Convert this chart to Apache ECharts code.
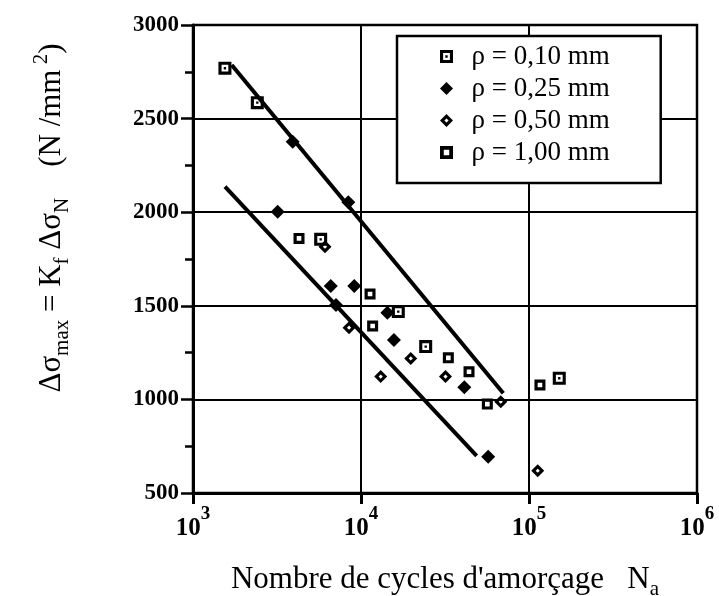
<!DOCTYPE html>
<html>
<head>
<meta charset="utf-8">
<title>Amorçage</title>
<script src="https://cdn.jsdelivr.net/npm/echarts@6/dist/echarts.min.js"></script>
<style>
html, body { margin: 0; padding: 0; background: #fff; }
#main { width: 719px; height: 596px; }
</style>
</head>
<body>
<div id="main"></div>
<script>
// points : [Na, delta sigma max]
var rho010 = [[1549, 2769], [2414, 2585], [5754, 1855], [16670, 1469], [24270, 1282], [151400, 1113]];
var rho025 = [[3920, 2377], [8405, 2053], [3192, 2003], [6607, 1606], [9120, 1606], [7100, 1504],
              [14350, 1463], [15710, 1317], [41200, 1065], [57150, 694]];
var rho050 = [[6104, 1816], [8490, 1383], [19770, 1219], [13100, 1122], [31840, 1122], [67900, 988], [112700, 619]];
var rho100 = [[4276, 1860], [11320, 1563], [11730, 1392], [33100, 1222], [43950, 1148], [56500, 975], [116200, 1077]];

// droites tracees a la main
var upperLine = [[1700, 2786], [70300, 1033]];
var lowerLine = [[1550, 2136], [48800, 698]];

var legendNames = ['ρ = 0,10 mm', 'ρ = 0,25 mm', 'ρ = 0,50 mm', 'ρ = 1,00 mm'];

var symSquareDot = 'path://M0,0H10V10H0Z M2.4,2.4V7.6H7.6V2.4Z M4.1,4.1H5.9V5.9H4.1Z';
var symDiamond = 'path://M5,0L10,5L5,10L0,5Z';
var symDiamondHollow = 'path://M5,0L10,5L5,10L0,5Z M5,3.4L3.4,5L5,6.6L6.6,5Z';
var symSquare = 'path://M0,0H10V10H0Z M2.9,2.9V7.1H7.1V2.9Z';

var serif = 'Liberation Serif';

var myChart = echarts.init(document.getElementById('main'));

function scatter(name, data, symbol, size) {
    return {
        name: name,
        type: 'scatter',
        data: data,
        symbol: symbol,
        symbolSize: size,
        symbolKeepAspect: true,
        itemStyle: { color: '#000', opacity: 1 },
        z: 5
    };
}

function fitLine(data) {
    return {
        type: 'line',
        data: data,
        symbol: 'none',
        silent: true,
        lineStyle: { color: '#000', width: 4 },
        z: 4
    };
}

var option = {
    animation: false,
    backgroundColor: '#fff',
    grid: {
        left: 193, right: 22, top: 25, bottom: 103,
        outerBoundsMode: 'none',
        containLabel: false,
        show: true,
        borderColor: '#000',
        borderWidth: 2.5
    },
    legend: {
        data: legendNames,
        orient: 'vertical',
        left: 397,
        top: 36,
        padding: [6, 51, 16, 43],
        itemWidth: 40,
        itemHeight: 13,
        itemGap: 3,
        backgroundColor: '#fff',
        borderColor: '#000',
        borderWidth: 2.5,
        symbolKeepAspect: true,
        textStyle: { fontFamily: serif, fontSize: 27, color: '#000', lineHeight: 29 }
    },
    xAxis: {
        type: 'log',
        logBase: 10,
        min: 1000,
        max: 1000000,
        name: "{t|Nombre de cycles d'amorçage   N}{s|a}",
        nameLocation: 'middle',
        nameGap: 67,
        nameTextStyle: {
            rich: {
                t: { fontFamily: serif, fontSize: 31, color: '#000', lineHeight: 40, verticalAlign: 'middle' },
                s: { fontFamily: serif, fontSize: 21, color: '#000', lineHeight: 22, verticalAlign: 'bottom' }
            }
        },
        axisLine: { lineStyle: { color: '#000', width: 3 } },
        axisTick: { show: true, inside: false, length: 11, lineStyle: { color: '#000', width: 3 } },
        splitLine: { show: true, lineStyle: { color: '#000', width: 2 } },
        axisLabel: {
            margin: 12,
            formatter: function (v) {
                return '{b|10}{s|' + Math.round(Math.log(v) / Math.LN10) + '}';
            },
            rich: {
                b: { fontFamily: serif, fontSize: 25, fontWeight: 'bold', color: '#000', lineHeight: 36, verticalAlign: 'bottom' },
                s: { fontFamily: serif, fontSize: 19, fontWeight: 'bold', color: '#000', lineHeight: 19, verticalAlign: 'top' }
            }
        }
    },
    yAxis: {
        type: 'value',
        min: 500,
        max: 3000,
        interval: 500,
        axisLine: { show: true, lineStyle: { color: '#000', width: 3 } },
        axisTick: { show: true, inside: false, length: 12, lineStyle: { color: '#000', width: 2.5 } },
        minorTick: { show: true, splitNumber: 2, length: 8, lineStyle: { color: '#000', width: 2.5 } },
        splitLine: { show: true, lineStyle: { color: '#000', width: 2 } },
        axisLabel: {
            margin: 14,
            fontFamily: serif,
            fontSize: 23,
            fontWeight: 'bold',
            color: '#000',
            formatter: function (v) { return String(v); }
        }
    },
    graphic: [{
        type: 'text',
        x: 52,
        y: 218,
        rotation: Math.PI / 2,
        style: {
            text: '{a|Δσ}{s|max}{a| = K}{s|f}{a| Δσ}{s|N}{a|    (N /mm}{p| 2}{a|)}',
            align: 'center',
            verticalAlign: 'middle',
            rich: {
                a: { fontFamily: serif, fontSize: 31, fill: '#000', lineHeight: 42, verticalAlign: 'middle' },
                s: { fontFamily: serif, fontSize: 21, fill: '#000', lineHeight: 22, verticalAlign: 'bottom' },
                p: { fontFamily: serif, fontSize: 21, fill: '#000', lineHeight: 22, verticalAlign: 'top' }
            }
        }
    }],
    series: [
        fitLine(upperLine),
        fitLine(lowerLine),
        scatter(legendNames[0], rho010, symSquareDot, 13),
        scatter(legendNames[1], rho025, symDiamond, 14),
        scatter(legendNames[2], rho050, symDiamondHollow, 13),
        scatter(legendNames[3], rho100, symSquare, 11)
    ]
};

myChart.setOption(option);
</script>
</body>
</html>
